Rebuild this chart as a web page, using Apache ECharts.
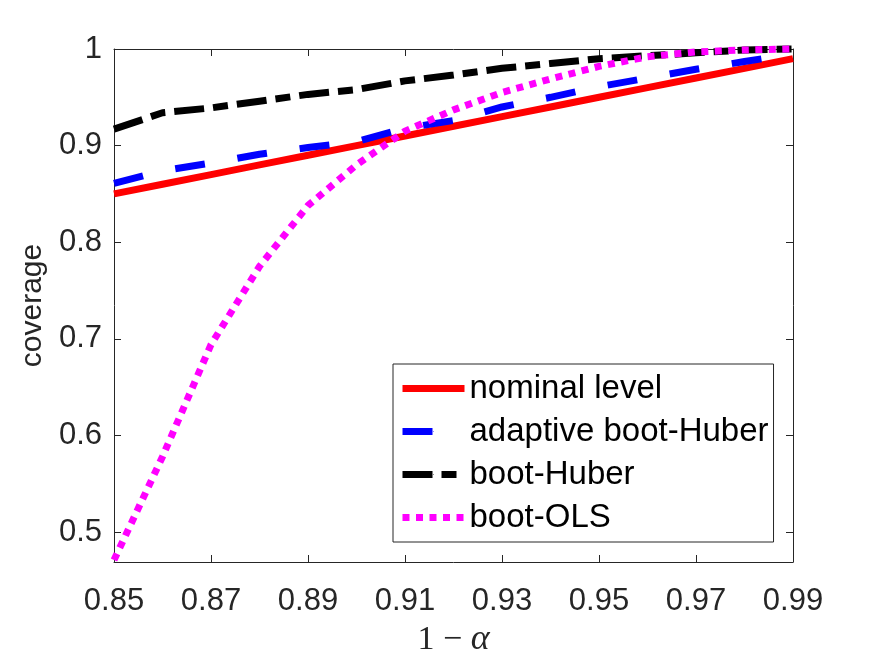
<!DOCTYPE html>
<html>
<head>
<meta charset="utf-8">
<script src="https://cdn.jsdelivr.net/npm/echarts@6/dist/echarts.min.js"></script>
<style>
  html, body { margin: 0; padding: 0; background: #fff; }
  #main { width: 875px; height: 656px; }
</style>
</head>
<body>
<div id="main"></div>
<script>
// 1 - alpha levels on the x axis
const levels = [0.85, 0.86, 0.87, 0.88, 0.89, 0.90, 0.91, 0.92, 0.93, 0.94, 0.95, 0.96, 0.97, 0.98, 0.99];
// coverage
const nominal = [0.85, 0.86, 0.87, 0.88, 0.89, 0.90, 0.91, 0.92, 0.93, 0.94, 0.95, 0.96, 0.97, 0.98, 0.99];
const adaptiveHuber = [0.861, 0.874, 0.882, 0.891, 0.898, 0.904, 0.918, 0.926, 0.940, 0.950, 0.961, 0.970, 0.979, 0.987, 0.995];
const bootHuber = [0.917, 0.934, 0.939, 0.946, 0.953, 0.958, 0.967, 0.973, 0.980, 0.985, 0.990, 0.993, 0.996, 0.999, 1.0];
const bootOls = [0.471, 0.578, 0.694, 0.775, 0.838, 0.880, 0.915, 0.937, 0.955, 0.969, 0.982, 0.992, 0.997, 0.999, 1.0];

const xTicks = [0.85, 0.87, 0.89, 0.91, 0.93, 0.95, 0.97, 0.99];
const yTicks = [0.5, 0.6, 0.7, 0.8, 0.9, 1];

const axisColor = '#262626';
const font = '"Liberation Sans", Arial, sans-serif';
const serif = '"Liberation Serif", "DejaVu Serif", serif';

function pairs(ys) {
  return levels.map((x, i) => [x, ys[i]]);
}

let myChart = echarts.init(document.getElementById('main'));

// MATLAB style box: same axis drawn on every side, ticks pointing in
function boxAxis(pos, ticks, min, max, extra) {
  return Object.assign({
    type: 'value',
    position: pos,
    min: min,
    max: max,
    axisLine: { show: true, onZero: false, lineStyle: { color: axisColor, width: 1 } },
    axisTick: { show: true, inside: true, length: 7, customValues: ticks, lineStyle: { color: axisColor } },
    axisLabel: { show: false, customValues: ticks },
    splitLine: { show: false }
  }, extra || {});
}

let option = {
  animation: false,
  backgroundColor: '#fff',
  grid: { left: 114, right: 82, top: 49, bottom: 94, containLabel: false, outerBoundsMode: 'none' },
  legend: {
    orient: 'vertical',
    left: 393,
    top: 364,
    backgroundColor: '#fff',
    borderColor: axisColor,
    borderWidth: 1,
    borderRadius: 0,
    padding: [8, 5, 8, 6],
    itemWidth: 62,
    itemHeight: 1,
    itemGap: 10,
    lineStyle: { width: 7 },
    textStyle: { fontFamily: font, fontSize: 33, color: '#000', lineHeight: 33 },
    data: ['nominal level', 'adaptive boot-Huber', 'boot-Huber', 'boot-OLS']
  },
  xAxis: [
    boxAxis('bottom', xTicks, 0.85, 0.99, {
      name: '{n|1 − }{a|α}',
      nameLocation: 'middle',
      nameGap: 60,
      nameTextStyle: {
        rich: {
          n: { fontFamily: serif, fontSize: 34, color: axisColor },
          a: { fontFamily: serif, fontSize: 36, fontStyle: 'italic', color: axisColor }
        }
      },
      axisLabel: {
        show: true,
        customValues: xTicks,
        margin: 24,
        fontFamily: font,
        fontSize: 31,
        color: axisColor,
        formatter: v => v.toFixed(2)
      }
    }),
    boxAxis('top', xTicks, 0.85, 0.99)
  ],
  yAxis: [
    boxAxis('left', yTicks, 0.469, 1, {
      name: 'coverage',
      nameLocation: 'middle',
      nameRotate: 90,
      nameGap: 60,
      nameTextStyle: { fontFamily: font, fontSize: 30, color: axisColor },
      axisLabel: {
        show: true,
        customValues: yTicks,
        margin: 12,
        fontFamily: font,
        fontSize: 31,
        color: axisColor,
        formatter: v => String(Math.round(v * 10) / 10)
      }
    }),
    boxAxis('right', yTicks, 0.469, 1)
  ],
  series: [
    {
      name: 'nominal level',
      type: 'line',
      symbol: 'none',
      clip: false,
      color: '#ff0000',
      lineStyle: { color: '#ff0000', width: 7, type: 'solid', cap: 'butt' },
      data: pairs(nominal)
    },
    {
      name: 'adaptive boot-Huber',
      type: 'line',
      symbol: 'none',
      clip: false,
      color: '#0000ff',
      lineStyle: { color: '#0000ff', width: 7, type: [30, 33], cap: 'butt' },
      data: pairs(adaptiveHuber)
    },
    {
      name: 'boot-Huber',
      type: 'line',
      symbol: 'none',
      clip: false,
      color: '#000000',
      lineStyle: { color: '#000000', width: 7, type: [30, 9, 15, 9], cap: 'butt' },
      data: pairs(bootHuber)
    },
    {
      name: 'boot-OLS',
      type: 'line',
      symbol: 'none',
      clip: false,
      color: '#ff00ff',
      lineStyle: { color: '#ff00ff', width: 7, type: [7, 6.5], cap: 'butt' },
      data: pairs(bootOls)
    }
  ]
};

option && myChart.setOption(option);
</script>
</body>
</html>
